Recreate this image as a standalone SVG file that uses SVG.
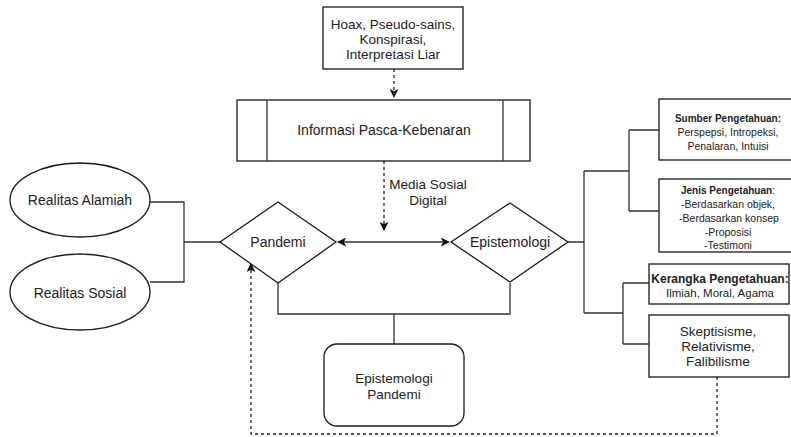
<svg xmlns="http://www.w3.org/2000/svg" width="791" height="437" viewBox="0 0 791 437">
<defs>
<style>
.s{fill:#fff;stroke:#1a1a1a;stroke-width:1.3}
.c{fill:none;stroke:#333;stroke-width:1.3}
.d{fill:none;stroke:#222;stroke-width:1.3;stroke-dasharray:3 3}
text{font-family:"Liberation Sans",Arial,sans-serif;fill:#222;text-anchor:middle}
.m{font-size:14px}
.t{font-size:13.5px}
.sm{font-size:10.5px}
.b{font-weight:bold;font-size:10px}
.k{font-size:11.5px}
.kb{font-size:12px;font-weight:bold}
</style>
<marker id="a" viewBox="0 0 10 10" refX="9" refY="5" markerWidth="9" markerHeight="9" markerUnits="userSpaceOnUse" orient="auto-start-reverse">
<path d="M0,0 L10,5 L0,10 L2.5,5 Z" fill="#111"/>
</marker>
</defs>
<rect width="791" height="437" fill="#fff"/>
<g id="connectors">
<path class="d" d="M394,69 V97" marker-end="url(#a)"/>
<path class="d" d="M384,161 V230" marker-end="url(#a)"/>
<path class="c" d="M338,242 H449" marker-start="url(#a)" marker-end="url(#a)"/>
<path class="c" d="M150,202 H184 V282 H150 M184,242 H220"/>
<path class="c" d="M278,283 V314 H510 V283 M394,314 V344"/>
<path class="c" d="M568,242 H584 M584,171 V313 M584,171 H629 M629,130 V211 M629,130 H659 M629,211 H659 M584,313 H623 M623,283 V344 M623,283 H649 M623,344 H649"/>
<path class="d" d="M717,377 V434 H251 V264" marker-end="url(#a)"/>
</g>
<g id="hoax">
<rect class="s" x="323" y="7" width="140" height="62"/>
<text class="t" x="393" y="29">Hoax, Pseudo-sains,</text>
<text class="t" x="393" y="44">Konspirasi,</text>
<text class="t" x="393" y="59">Interpretasi Liar</text>
</g>
<g id="informasi">
<rect class="s" x="237" y="100" width="293" height="61"/>
<path class="c" d="M267,100 V161 M503,100 V161"/>
<text class="m" x="384" y="135">Informasi Pasca-Kebenaran</text>
</g>
<text class="t" x="428" y="189">Media Sosial</text>
<text class="t" x="428" y="205">Digital</text>
<g id="realitas-alamiah">
<ellipse class="s" cx="80" cy="200" rx="70" ry="37"/>
<text class="m" x="80" y="205">Realitas Alamiah</text>
</g>
<g id="realitas-sosial">
<ellipse class="s" cx="80" cy="292" rx="70" ry="38"/>
<text class="m" x="80" y="298">Realitas Sosial</text>
</g>
<g id="pandemi">
<path class="s" d="M278,202 L336,242 L278,283 L220,242 Z"/>
<text class="m" x="278" y="247">Pandemi</text>
</g>
<g id="epistemologi">
<path class="s" d="M510,203 L568,242 L510,282 L451,242 Z"/>
<text class="m" x="510" y="247">Epistemologi</text>
</g>
<g id="epistemologi-pandemi">
<rect class="s" x="324" y="344" width="140" height="82" rx="13"/>
<text class="t" x="394" y="383">Epistemologi</text>
<text class="t" x="394" y="399">Pandemi</text>
</g>
<g id="sumber">
<rect class="s" x="659" y="99" width="140" height="61"/>
<text class="b" x="728" y="122">Sumber Pengetahuan:</text>
<text class="sm" x="728" y="136">Perspepsi, Intropeksi,</text>
<text class="sm" x="728" y="150">Penalaran, Intuisi</text>
</g>
<g id="jenis">
<rect class="s" x="659" y="179" width="140" height="73"/>
<text class="sm" x="728" y="194"><tspan class="b">Jenis Pengetahuan</tspan>:</text>
<text class="sm" x="728" y="208">-Berdasarkan objek,</text>
<text class="sm" x="729" y="222">-Berdasarkan konsep</text>
<text class="sm" x="728" y="236">-Proposisi</text>
<text class="sm" x="728" y="249">-Testimoni</text>
</g>
<g id="kerangka">
<rect class="s" x="649" y="264" width="140" height="40"/>
<text class="kb" x="720" y="283">Kerangka Pengetahuan:</text>
<text class="k" x="720" y="297">Ilmiah, Moral, Agama</text>
</g>
<g id="skeptisisme">
<rect class="s" x="649" y="315" width="140" height="62"/>
<text class="t" x="718" y="336">Skeptisisme,</text>
<text class="t" x="718" y="351">Relativisme,</text>
<text class="t" x="718" y="366">Falibilisme</text>
</g>
</svg>
